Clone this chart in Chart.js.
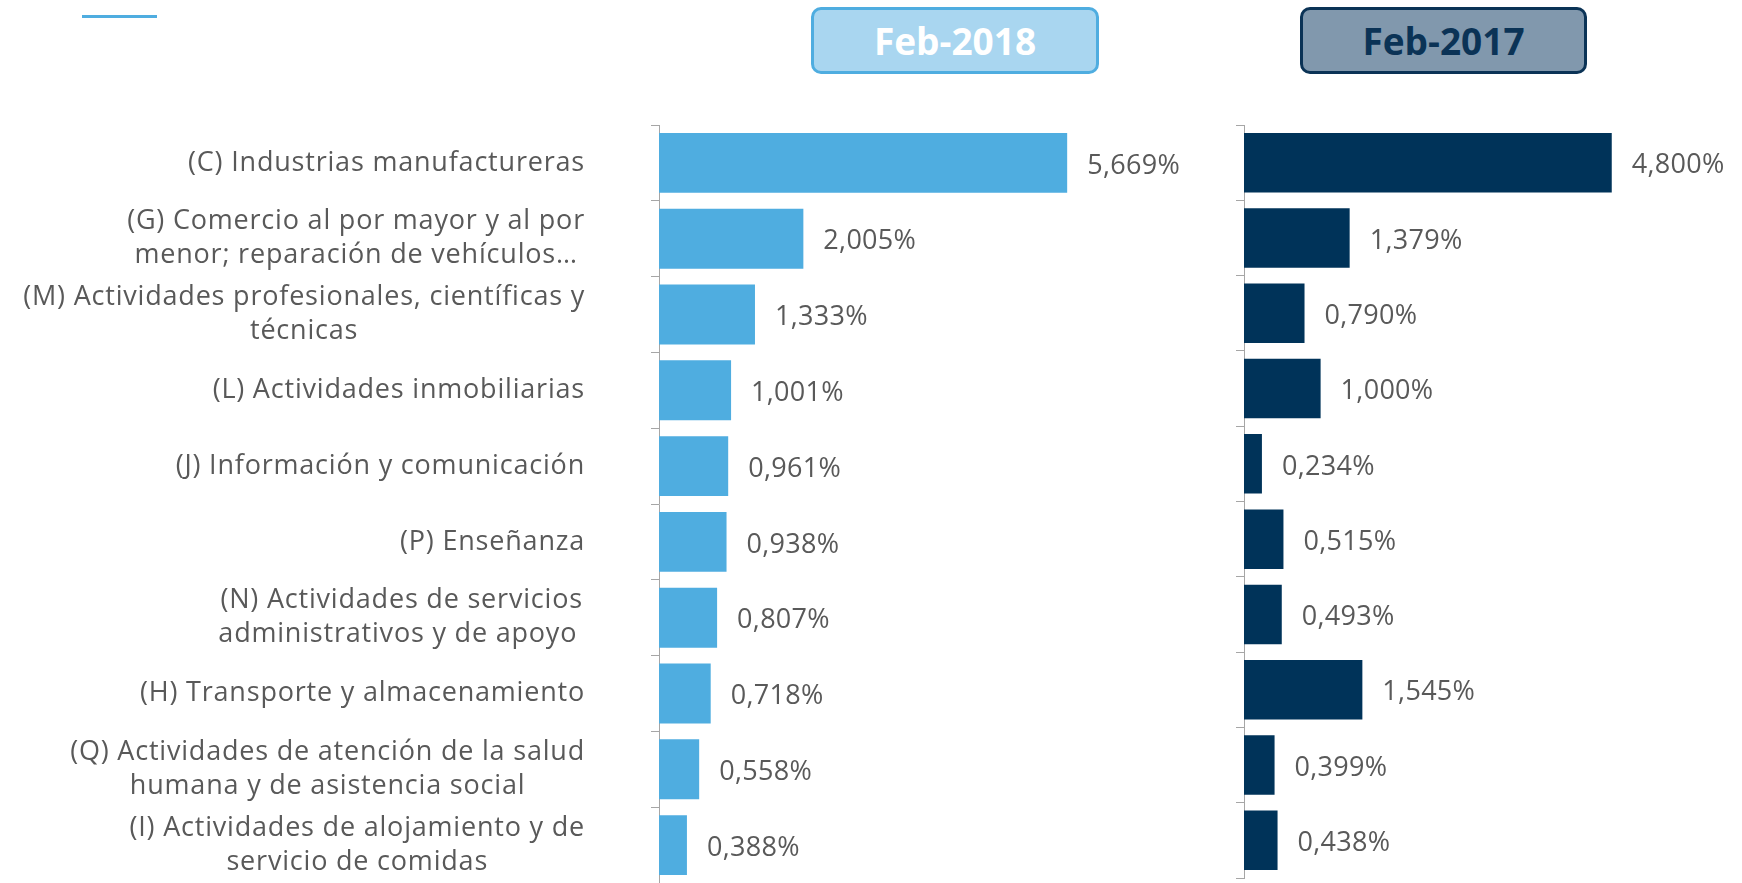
<!DOCTYPE html>
<html lang="es">
<head>
<meta charset="utf-8">
<title>Feb-2018 vs Feb-2017</title>
<script src="https://cdn.jsdelivr.net/npm/chart.js@4.4.1/dist/chart.umd.min.js"></script>
<style>
  html, body { margin: 0; padding: 0; background: #fff; }
  body { width: 1742px; height: 883px; position: relative; overflow: hidden; font-family: 'Open Sans', sans-serif; }
  .accent { position: absolute; left: 82px; top: 15px; width: 75px; height: 3px; background: #4FADE0; }
  .tag { position: absolute; top: 7px; height: 67px; box-sizing: border-box; border-radius: 10px; border: 3px solid;
         font-weight: 700; font-size: 37px; display: flex; align-items: center; justify-content: center; }
  #tag2018 { left: 811px; width: 288px; background: #A9D6F0; border-color: #4FADE0; color: #fff; }
  #tag2017 { left: 1300px; width: 287px; background: #8198AD; border-color: #0B3356; color: #0B3356; }
  canvas { position: absolute; top: 0; }
  #chartL { left: 0; }
  #chartR { left: 1236px; }
</style>
</head>
<body>
<div class="accent"></div>
<div class="tag" id="tag2018">Feb-2018</div>
<div class="tag" id="tag2017">Feb-2017</div>
<canvas id="chartL" width="1235" height="883"></canvas>
<canvas id="chartR" width="506" height="883"></canvas>
<script>
const categories = [
    ['(C) Industrias manufactureras'],
    ['(G) Comercio al por mayor y al por', 'menor; reparación de vehículos…'],
    ['(M) Actividades profesionales, científicas y', 'técnicas'],
    ['(L) Actividades inmobiliarias'],
    ['(J) Información y comunicación'],
    ['(P) Enseñanza'],
    ['(N) Actividades de servicios', 'administrativos y de apoyo '],
    ['(H) Transporte y almacenamiento'],
    ['(Q) Actividades de atención de la salud', 'humana y de asistencia social'],
    ['(I) Actividades de alojamiento y de', 'servicio de comidas'],
];
const feb2018 = [5.669, 2.005, 1.333, 1.001, 0.961, 0.938, 0.807, 0.718, 0.558, 0.388];
const feb2017 = [4.800, 1.379, 0.790, 1.000, 0.234, 0.515, 0.493, 1.545, 0.399, 0.438];
const xMax2018 = 8;
const xMax2017 = 6.5;

const textGrey = '#595959';
const axisGrey = '#A6A6A6';

// value labels to the right of every bar, 5,669% style
const valueLabels = {
    id: 'valueLabels',
    afterDatasetsDraw(chart) {
        const ctx = chart.ctx;
        ctx.save();
        ctx.font = '27px "Open Sans"';
        ctx.letterSpacing = '0.3px';
        ctx.fillStyle = textGrey;
        ctx.textAlign = 'left';
        ctx.textBaseline = 'middle';
        chart.getDatasetMeta(0).data.forEach((bar, i) => {
            const v = chart.data.datasets[0].data[i];
            ctx.fillText(v.toFixed(3).replace('.', ',') + '%', bar.x + 20, bar.y + 3);
        });
        ctx.restore();
    }
};

// category names: block right aligned, lines centred inside the block
const categoryLabels = {
    id: 'categoryLabels',
    afterDraw(chart) {
        const ctx = chart.ctx;
        const y = chart.scales.y;
        const labelRight = 585;
        const lineH = 34;
        ctx.save();
        ctx.font = '27px "Open Sans"';
        ctx.letterSpacing = '0.8px';
        ctx.fillStyle = textGrey;
        ctx.textAlign = 'center';
        ctx.textBaseline = 'middle';
        chart.data.labels.forEach((lines, i) => {
            const yc = y.getPixelForTick(i);
            const w = Math.max(...lines.map(l => ctx.measureText(l).width));
            const cx = labelRight - w / 2;
            lines.forEach((l, k) => ctx.fillText(l, cx, yc + (k - (lines.length - 1) / 2) * lineH));
        });
        ctx.restore();
    }
};

const makeChart = (id, values, color, xMax, axisWidth, bottomPad, extraPlugins) => {
    return new Chart(document.getElementById(id), {
        type: 'bar',
        data: {
            labels: categories,
            datasets: [{
                data: values,
                backgroundColor: color,
                borderWidth: 0,
                barPercentage: 0.79,
                categoryPercentage: 1,
            }],
        },
        options: {
            indexAxis: 'y',
            responsive: false,
            animation: false,
            layout: { padding: { top: 125, bottom: bottomPad, left: 0, right: 0 } },
            plugins: {
                legend: { display: false },
                title: { display: false },
                tooltip: { enabled: false },
            },
            scales: {
                x: { display: false, min: 0, max: xMax },
                y: {
                    position: 'left',
                    grid: { drawOnChartArea: false, drawTicks: true, tickLength: 8, color: axisGrey, offset: true },
                    border: { display: true, color: axisGrey, width: 1 },
                    ticks: { display: false },
                    afterFit: (s) => { s.width = axisWidth; },
                },
            },
        },
        plugins: [valueLabels, ...extraPlugins],
    });
};

makeChart('chartL', feb2018, '#4FADE0', xMax2018, 659, 0, [categoryLabels]);
makeChart('chartR', feb2017, '#003359', xMax2017, 8, 5, []);
</script>
</body>
</html>
